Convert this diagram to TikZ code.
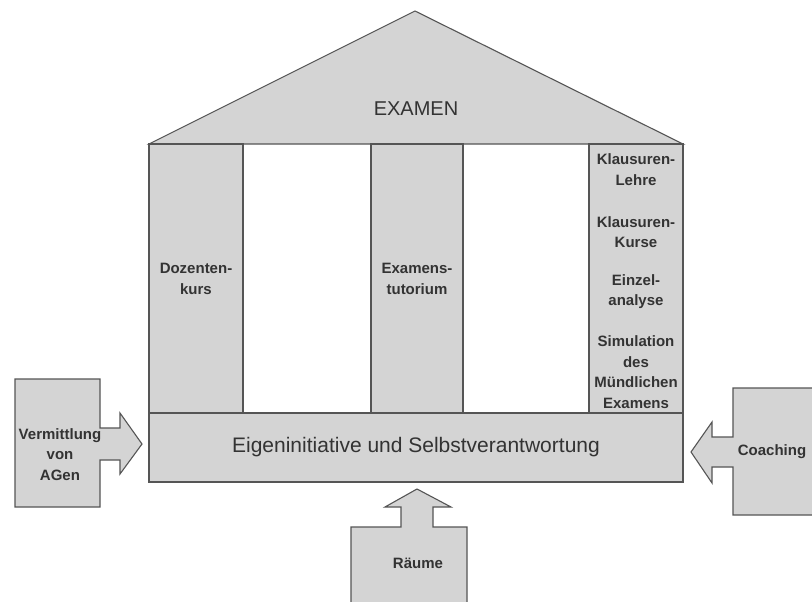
\documentclass[tikz,border=0pt]{standalone}
\usepackage{fontspec}
\setmainfont{Liberation Sans}
\definecolor{fillgray}{HTML}{D4D4D4}
\definecolor{linegray}{HTML}{555555}
\definecolor{textgray}{HTML}{333333}
\begin{document}
\begin{tikzpicture}[x=1pt,y=-1pt,
  part/.style={draw=linegray, fill=fillgray, line width=1.1pt, line join=miter},
  lbl/.style={text=textgray, font=\fontsize{15}{20.5}\selectfont\bfseries, align=center, inner sep=0pt},
  big/.style={text=textgray, inner sep=0pt}]
\useasboundingbox (0,0) rectangle (812,602);
\fill[white] (0,0) rectangle (812,602);
\begin{scope}
\clip (0,0) rectangle (812,602);
% roof
\draw[part] (149,144) -- (415,11) -- (683,144) -- cycle;
% pillars
\draw[part] (149,144) rectangle (243,413);
\draw[part] (371,144) rectangle (463,413);
\draw[part] (589,144) rectangle (683,413);
% base
\draw[part] (149,413) rectangle (683,482);
% left box with arrow
\draw[part] (15,379) -- (100,379) -- (100,428) -- (120,428) -- (120,413) -- (142,444)
  -- (120,474) -- (120,460) -- (100,460) -- (100,507) -- (15,507) -- cycle;
% right box with arrow
\draw[part] (820,388) -- (733,388) -- (733,437) -- (712,437) -- (712,422) -- (691,452)
  -- (712,483) -- (712,467) -- (733,467) -- (733,515) -- (820,515);
% bottom box with arrow
\draw[part] (351,527) -- (401,527) -- (401,507) -- (385,507) -- (417,489) -- (451,507)
  -- (433,507) -- (433,527) -- (467,527) -- (467,610) -- (351,610) -- cycle;
\end{scope}
% texts
\node[big, font=\fontsize{20}{20}\selectfont] (examen) at (416,109) {EXAMEN};
\node[big, font=\fontsize{21}{21}\selectfont] (basis) at (416,447) {Eigeninitiative und Selbstverantwortung};
\node[lbl] (dozent) at (196,279) {Dozenten-\\kurs};
\node[lbl] (tutor) at (417,279) {Examens-\\tutorium};
\node[lbl] (kl1) at (636,169.5) {Klausuren-\\Lehre};
\node[lbl] (kl2) at (636,232) {Klausuren-\\Kurse};
\node[lbl] (einzel) at (636,291.5) {Einzel-\\analyse};
\node[lbl] (sim) at (636,372) {Simulation\\des\\Mündlichen\\Examens};
\node[lbl] (verm) at (60,454.5) {Vermittlung\\von\\AGen};
\node[lbl] (coach) at (772,452) {Coaching};
\node[lbl] (raeume) at (418,563) {Räume};
\end{tikzpicture}
\end{document}
